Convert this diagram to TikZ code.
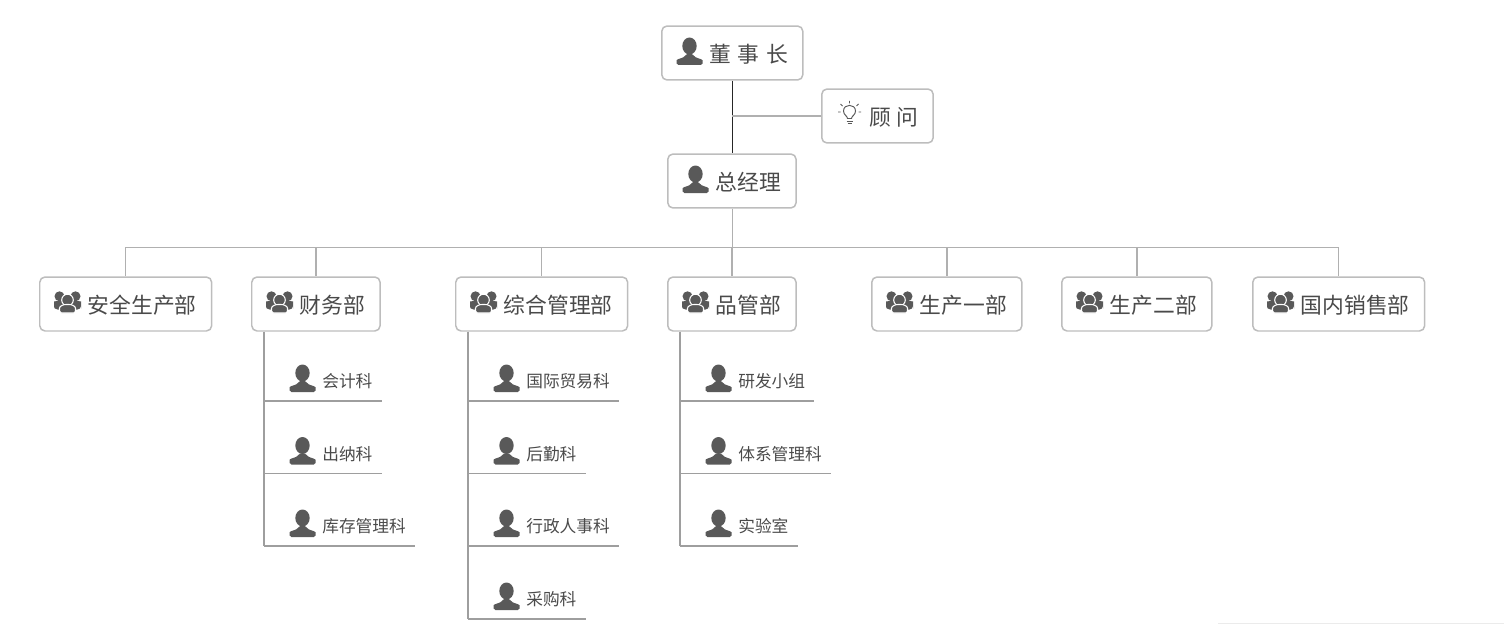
\documentclass[tikz,border=0pt]{standalone}
\usepackage{fontspec}
\setmainfont{Noto Sans CJK SC}
\usetikzlibrary{calc}
\definecolor{icongray}{HTML}{595959}
\definecolor{textgray}{HTML}{4A4A4A}
\definecolor{boxgray}{HTML}{BDBDBD}
\definecolor{linegray}{HTML}{B0B0B0}
\definecolor{subgray}{HTML}{9E9E9E}
\tikzset{
  mainbox/.style={draw=boxgray, line width=0.85pt, rounded corners=3pt, fill=white, anchor=west,
    minimum height=1.08cm, inner xsep=0.3cm, inner ysep=0pt, text=textgray,
    text height=11.8pt, text depth=0.6pt,
    font=\fontsize{12.4}{15}\selectfont, execute at begin node={\hspace*{0.66cm}}},
  subitem/.style={anchor=south west, minimum height=0.8cm, inner xsep=0.18cm, inner ysep=0pt,
    text=textgray, text height=8.7pt, text depth=0.5pt,
    font=\fontsize{9.5}{12}\selectfont, execute at begin node={\hspace*{0.98cm}}},
  conn/.style={draw=linegray, line width=0.85pt},
  subconn/.style={draw=subgray, line width=0.85pt},
  person/.pic={
    \fill[icongray] (0,-19) ellipse [x radius=7.2, y radius=8.5];
    \fill[icongray, rounded corners=1pt] (-13,0) -- (-13,-3) .. controls (-13,-6) and (-5,-7) .. (-4,-11)
      -- (4,-11) .. controls (5,-7) and (13,-6) .. (13,-3) -- (13,0) -- cycle;
  },
  group/.pic={
    \fill[icongray] (-8,-16.7) circle [radius=5];
    \fill[icongray] (8,-16.7) circle [radius=5];
    \fill[icongray, rounded corners=2pt] (-13.5,-3.5) -- (-13.5,-8) .. controls (-13.5,-11) and (-10,-12) .. (-8,-12)
      -- (8,-12) .. controls (10,-12) and (13.5,-11) .. (13.5,-8) -- (13.5,-3.5) -- cycle;
    \fill[icongray, draw=white, line width=0.6pt] (0,-13) circle [radius=5.8];
    \fill[icongray, draw=white, line width=0.6pt, rounded corners=1pt] (-8,0) -- (-8,-3) .. controls (-8,-7) and (-4,-8.5) .. (0,-8.5)
      .. controls (4,-8.5) and (8,-7) .. (8,-3) -- (8,0) -- cycle;
  },
  bulb/.pic={
    \draw[icongray, line width=0.55pt] (-2,5.5) .. controls (-2,3) and (-6,2) .. (-6,-2)
      .. controls (-6,-9.5) and (6,-9.5) .. (6,-2) .. controls (6,2) and (2,3) .. (2,5.5) -- cycle;
    \draw[icongray, line width=0.55pt] (-3,8) -- (3,8) (-2,10.5) -- (2,10.5);
    \draw[icongray, line width=0.55pt] (0,-9.5) -- (0,-12) (-7,-7) -- (-9,-9) (7,-7) -- (9,-9)
      (-9,-1) -- (-11.5,-1) (9,-1) -- (11.5,-1);
  }
}
\begin{document}
\begin{tikzpicture}[x=0.02cm, y=-0.02cm]
  \useasboundingbox (0,0) rectangle (1504,625);
  % top of the chart
  \node[mainbox] (dongshizhang) at (661,53) {董 \kern0.85pt事 \kern0.85pt长};
  \node[mainbox] (guwen) at (821,116) {顾 问};
  \node[mainbox] (zongjingli) at (667,181) {总经理};
  \pic at ($(dongshizhang.west)+(28.5,12)$) {person};
  \pic at ($(guwen.west)+(28.5,-3)$) {bulb};
  \pic at ($(zongjingli.west)+(28.5,12)$) {person};
  \draw[line width=0.85pt, black!85] (dongshizhang.south) -- (zongjingli.north -| dongshizhang.south);
  \draw[conn] (guwen.west) -- (guwen.west -| dongshizhang.south);
  % departments
  \node[mainbox] (anquan) at (39,304) {安全生产部};
  \node[mainbox] (caiwu) at (251,304) {财务部};
  \node[mainbox] (zonghe) at (455,304) {综合管理部};
  \node[mainbox] (pinguan) at (667,304) {品管部};
  \node[mainbox] (shengchan1) at (871,304) {生产一部};
  \node[mainbox] (shengchan2) at (1061,304) {生产二部};
  \node[mainbox] (xiaoshou) at (1252,304) {国内销售部};
  \coordinate (bus) at (732.5,247.5);
  \draw[conn] (zongjingli.south -| bus) -- (bus);
  \foreach \nm in {anquan,caiwu,zonghe,pinguan,shengchan1,shengchan2,xiaoshou}{
    \pic at ($(\nm.west)+(28.5,9)$) {group};
    \draw[conn] (bus) -| (\nm.north);
  }
  % sections under each department
  \foreach \nm/\xx/\yy/\tx in {kuaiji/264/401/会计科, chuna/264/473.5/出纳科, kucun/264/546/库存管理科,
      guoji/468/401/国际贸易科, houqin/468/473.5/后勤科, xingzheng/468/546/行政人事科, caigou/468/619/采购科,
      yanfa/680/401/研发小组, tixi/680/473.5/体系管理科, shiyan/680/546/实验室}{
    \node[subitem] (\nm) at (\xx,\yy) {\tx};
    \pic at ($(\nm.south west)+(38.5,-9)$) {person};
    \draw[subconn] (\nm.south west) -- (\nm.south east);
  }
  \draw[subconn] (kucun.south west |- caiwu.south) -- (kucun.south west);
  \draw[subconn] (caigou.south west |- zonghe.south) -- (caigou.south west);
  \draw[subconn] (shiyan.south west |- pinguan.south) -- (shiyan.south west);
  % faint edge at the bottom
  \draw[black!8, line width=0.6pt] (1218,623.5) -- (1504,623.5);
\end{tikzpicture}
\end{document}
